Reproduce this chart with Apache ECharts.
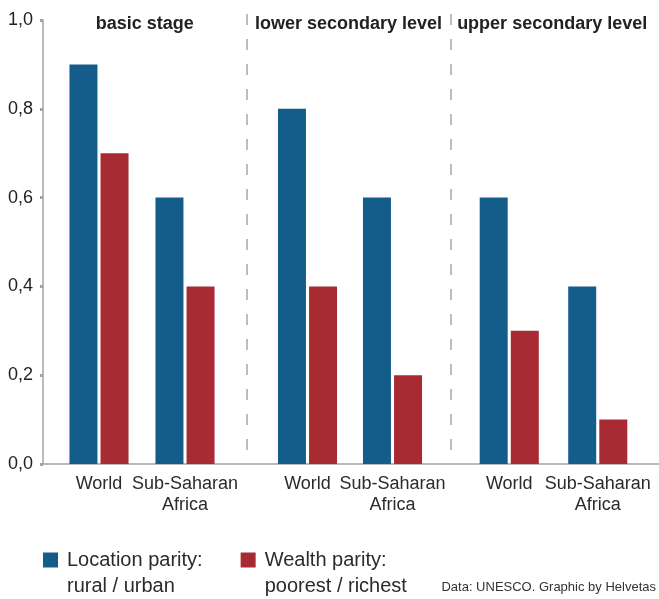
<!DOCTYPE html>
<html>
<head>
<meta charset="utf-8">
<script src="https://cdn.jsdelivr.net/npm/echarts@6/dist/echarts.min.js"></script>
<style>
  html, body { margin: 0; padding: 0; background: #ffffff; }
  #chart { width: 659px; height: 599px; }
</style>
</head>
<body>
<div id="chart"></div>
<script>
// ---- data ----
const categories = ['World', 'Sub-Saharan\nAfrica'];
const stages = ['basic stage', 'lower secondary level', 'upper secondary level'];
const seriesNames = ['Location parity:\nrural / urban', 'Wealth parity:\npoorest / richest'];
// values per stage: [World, Sub-Saharan Africa]
const locationParity = [[0.9, 0.6], [0.8, 0.6], [0.6, 0.4]];
const wealthParity = [[0.7, 0.4], [0.4, 0.2], [0.3, 0.1]];
const sourceText = 'Data: UNESCO. Graphic by Helvetas';

// ---- layout / style ----
const FONT = "'Liberation Sans', Arial, Helvetica, sans-serif";
const BLUE = '#145d8b';
const RED = '#a82a33';
const AXIS_GRAY = '#a3a3a3';
const TOP = 20, BOTTOM = 135;
const barGrids = [
  { left: 56, width: 172 },
  { left: 265, width: 170 },
  { left: 465, width: 177 }
];

const chart = echarts.init(document.getElementById('chart'), null, { renderer: 'canvas' });

const grid = [
  { left: 43, right: 0, top: TOP, bottom: BOTTOM },          // y axis + baseline
  { left: 43, width: 611, top: 14, bottom: BOTTOM }          // stage titles + dividers
];
barGrids.forEach(g => grid.push({ left: g.left, width: g.width, top: TOP, bottom: BOTTOM }));

const xAxis = [
  {
    gridIndex: 0, type: 'category', data: stages,
    axisLine: { show: true, lineStyle: { color: AXIS_GRAY, width: 1.5 } },
    axisTick: { show: false }, axisLabel: { show: false }, splitLine: { show: false }
  },
  {
    gridIndex: 1, type: 'category', data: stages, position: 'top',
    axisLine: { show: false }, axisTick: { show: false },
    axisLabel: { show: true, interval: 0, margin: -19, fontFamily: FONT, fontSize: 18, fontWeight: 'bold', color: '#222222' },
    splitLine: {
      show: true, interval: 0, showMinLine: false, showMaxLine: false,
      lineStyle: { color: '#a8a8a8', width: 1.5, type: [11, 14] }
    }
  }
];
const yAxis = [
  {
    gridIndex: 0, type: 'value', min: 0, max: 1, interval: 0.2,
    axisLine: { show: true, lineStyle: { color: AXIS_GRAY, width: 1.5 } },
    axisTick: { show: true, length: 3, lineStyle: { color: AXIS_GRAY, width: 3 } },
    axisLabel: {
      margin: 10, fontFamily: FONT, fontSize: 18, color: '#222222',
      formatter: v => v.toFixed(1).replace('.', ',')
    },
    splitLine: { show: false }
  },
  { gridIndex: 1, type: 'value', min: 0, max: 1, show: false }
];

const series = [];
stages.forEach((s, i) => {
  xAxis.push({
    gridIndex: 2 + i, type: 'category', data: categories,
    axisLine: { show: false }, axisTick: { show: false },
    axisLabel: { interval: 0, margin: 10, fontFamily: FONT, fontSize: 18, lineHeight: 21, color: '#2b2b2b' },
    splitLine: { show: false }
  });
  yAxis.push({ gridIndex: 2 + i, type: 'value', min: 0, max: 1, interval: 0.2, show: false });
  series.push({
    name: seriesNames[0], type: 'bar', xAxisIndex: 2 + i, yAxisIndex: 2 + i,
    data: locationParity[i], barWidth: 28, barGap: '11%',
    itemStyle: { color: BLUE }, silent: true
  });
  series.push({
    name: seriesNames[1], type: 'bar', xAxisIndex: 2 + i, yAxisIndex: 2 + i,
    data: wealthParity[i], barWidth: 28, barGap: '11%',
    itemStyle: { color: RED }, silent: true
  });
});

chart.setOption({
  animation: false,
  backgroundColor: '#ffffff',
  color: [BLUE, RED],
  grid: grid,
  xAxis: xAxis,
  yAxis: yAxis,
  series: series,
  legend: {
    data: seriesNames.map(n => ({ name: n, icon: 'rect' })),
    left: 43, top: 521, padding: 0,
    orient: 'horizontal',
    itemWidth: 15, itemHeight: 15, itemGap: 38,
    selectedMode: false,
    // blank first line keeps the square level with the first text line
    formatter: name => ' \n' + name,
    textStyle: { fontFamily: FONT, fontSize: 20, lineHeight: 26, color: '#2b2b2b', padding: [0, 0, 0, 4] }
  },
  title: {
    text: sourceText,
    right: 3, bottom: 5, padding: 0,
    textStyle: { fontFamily: FONT, fontSize: 13, fontWeight: 'normal', color: '#333333' }
  }
});
</script>
</body>
</html>
